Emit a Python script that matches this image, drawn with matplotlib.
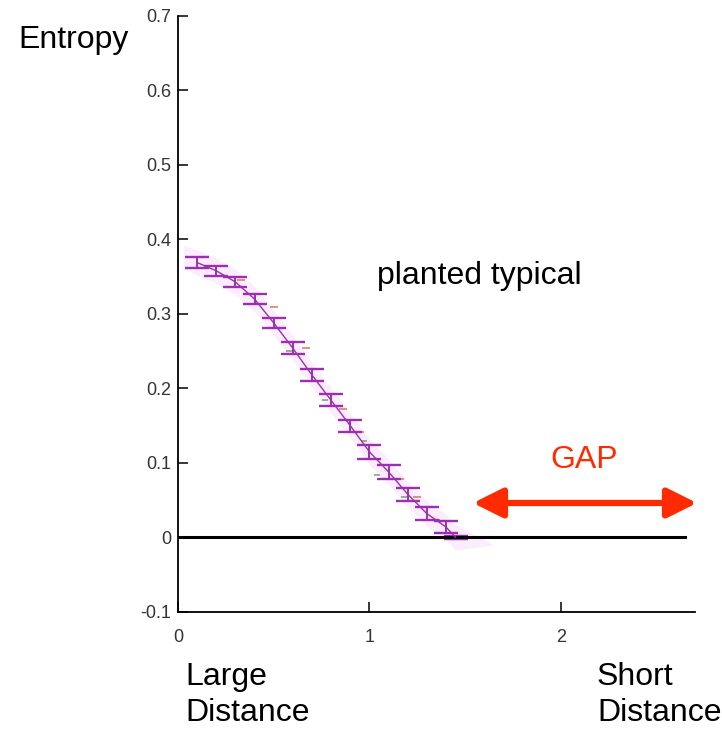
import matplotlib
matplotlib.use("Agg")
import matplotlib.pyplot as plt
import numpy as np

# Mean entropy of planted typical instances versus distance
distance = [0.1, 0.2, 0.3, 0.4, 0.5, 0.6, 0.7, 0.8, 0.9, 1.0, 1.1, 1.2, 1.3, 1.4, 1.45]
entropy = [0.369, 0.358, 0.343, 0.320, 0.288, 0.254, 0.218, 0.184, 0.150,
           0.115, 0.088, 0.058, 0.032, 0.014, 0.0]
entropy_err = [0.007, 0.007, 0.007, 0.007, 0.007, 0.008, 0.008, 0.008, 0.008,
               0.009, 0.009, 0.009, 0.009, 0.008, 0.002]

# Secondary estimates (small dashes beside the main curve)
alt_distance = [0.33, 0.5, 0.67, 0.86, 0.95, 1.16, 1.25, 1.35]
alt_entropy = [0.345, 0.31, 0.255, 0.173, 0.142, 0.079, 0.054, 0.024]
alt2_distance = [0.58, 0.77, 0.97, 1.04, 1.18]
alt2_entropy = [0.25, 0.185, 0.13, 0.084, 0.055]

yticks = [-0.1, 0, 0.1, 0.2, 0.3, 0.4, 0.5, 0.6, 0.7]
xticks = [0, 1, 2]

plt.rcParams['font.family'] = ['Liberation Sans', 'DejaVu Sans']

fig = plt.figure(figsize=(7.22, 7.29), dpi=100)
ax = fig.add_axes([0.2465, 0.1605, 0.7161, 0.8176])

purple = '#9a2fb0'
x = np.array(distance)
y = np.array(entropy)

# soft band around the curve
ax.fill_between(np.r_[0.03, x, 1.65], np.r_[0.392, y + 0.017, -0.01],
                np.r_[0.362, y - 0.017, -0.01], color='#f4c4f4', alpha=0.3, lw=0)

ax.plot(alt_distance, alt_entropy, ls='none', marker='_', ms=6, mew=1.3,
        color='#d9704a', alpha=0.8)
ax.plot(alt2_distance, alt2_entropy, ls='none', marker='_', ms=4, mew=1.2,
        color='#3f8f3f', alpha=0.7)

ax.errorbar(x, y, yerr=entropy_err, color=purple, lw=1.0, elinewidth=1.4,
            capsize=8.5, capthick=1.7)

# zero reference line
ax.plot([0, 2.65], [0, 0], color='black', lw=2.2)

ax.set_xlim(0, 2.7)
ax.set_ylim(-0.1, 0.7)
ax.set_xticks(xticks)
ax.set_xticklabels([str(t) for t in xticks])
ax.set_yticks(yticks)
ax.set_yticklabels(['-0.1', '0', '0.1', '0.2', '0.3', '0.4', '0.5', '0.6', '0.7'])
for side in ('top', 'right'):
    ax.spines[side].set_visible(False)
for side in ('left', 'bottom'):
    ax.spines[side].set_linewidth(1.3)
ax.tick_params(direction='in', length=7, width=1.1, labelsize=13,
               labelcolor='#333333')
ax.tick_params(axis='y', pad=5)
ax.tick_params(axis='x', pad=12)

# annotations
fs = 23
fig.text(18 / 722, 1 - 40 / 729, 'Entropy', fontsize=fs, va='center', ha='left')
fig.text(377 / 722, 1 - 276 / 729, 'planted typical', fontsize=fs, va='center', ha='left')
fig.text(584 / 722, 1 - 460 / 729, 'GAP', fontsize=fs, va='center', ha='center',
         color='#ff2a00')
fig.text(185 / 722, 1 - 677 / 729, 'Large', fontsize=fs, va='center', ha='left')
fig.text(185 / 722, 1 - 713 / 729, 'Distance', fontsize=fs, va='center', ha='left')
fig.text(597 / 722, 1 - 677 / 729, 'Short', fontsize=fs, va='center', ha='left')
fig.text(597 / 722, 1 - 713 / 729, 'Distance', fontsize=fs, va='center', ha='left')

ax.annotate('', xy=(697 / 722, 1 - 503 / 729), xytext=(473 / 722, 1 - 503 / 729),
            xycoords='figure fraction', textcoords='figure fraction',
            arrowprops=dict(arrowstyle='<|-|>,head_length=1.8,head_width=0.9',
                            color='#ff2a00', lw=4.5, shrinkA=0, shrinkB=0))

fig.savefig('out.png', dpi=100)
